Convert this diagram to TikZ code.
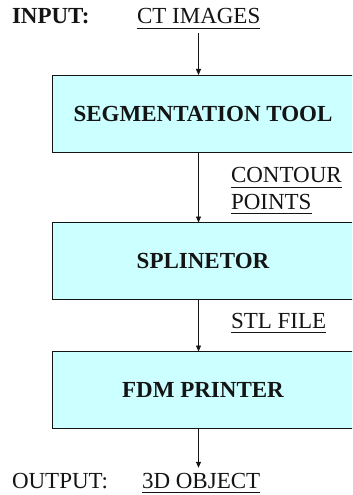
\documentclass[tikz,border=0pt]{standalone}
\usepackage{fontspec}
\setmainfont{Liberation Serif}
\usetikzlibrary{arrows.meta}
\definecolor{boxfill}{RGB}{204,255,255}
\definecolor{ink}{RGB}{20,20,20}
\begin{document}
\begin{tikzpicture}[x=1bp,y=-1bp,
  every node/.style={inner sep=0pt,outer sep=0pt,text=ink,font=\fontsize{23bp}{27bp}\selectfont},
  lbl/.style={anchor=base west},
  boxnode/.style={draw=ink,line width=0.9bp,fill=boxfill,minimum width=302bp,minimum height=77bp,font=\fontsize{23bp}{27bp}\selectfont\bfseries},
  arr/.style={draw=ink,line width=0.8bp,-{Triangle[length=6bp,width=5bp]}},
  ul/.style={draw=ink,line width=0.9bp}]
\useasboundingbox (0,0) rectangle (352,495);
\clip (0,0) rectangle (352,495);
\coordinate (ax) at (198.5,0);
% texts
\node[lbl,font=\fontsize{23bp}{27bp}\selectfont\bfseries] (inp) at (12,24) {INPUT:};
\node[lbl] (ct) at (137,24) {CT IMAGES};
\node[lbl] (cont) at (231,183) {CONTOUR};
\node[lbl] (pts) at (231,209.5) {POINTS};
\node[lbl] (stl) at (231,328.5) {STL FILE};
\node[lbl] (outp) at (12,488) {OUTPUT:};
\node[lbl] (obj) at (142,488) {3D OBJECT};
% underlines
\foreach \n in {ct,cont,pts,stl,obj}{
  \draw[ul] ([yshift=-4bp]\n.base west) -- ([yshift=-4bp]\n.base east);
}
% boxes
\node[boxnode] (b1) at (203,113.5) {SEGMENTATION TOOL};
\node[boxnode] (b2) at (203,261) {SPLINETOR};
\node[boxnode] (b3) at (203,390) {FDM PRINTER};
% arrows
\coordinate (s0) at ([yshift=-9bp]ct.base -| ax);
\coordinate (e4) at ([yshift=5bp]obj.north -| ax);
\draw[arr] (s0) -- (b1.north -| ax);
\draw[arr] (b1.south -| ax) -- (b2.north -| ax);
\draw[arr] (b2.south -| ax) -- (b3.north -| ax);
\draw[arr] (b3.south -| ax) -- (e4);
\end{tikzpicture}
\end{document}
